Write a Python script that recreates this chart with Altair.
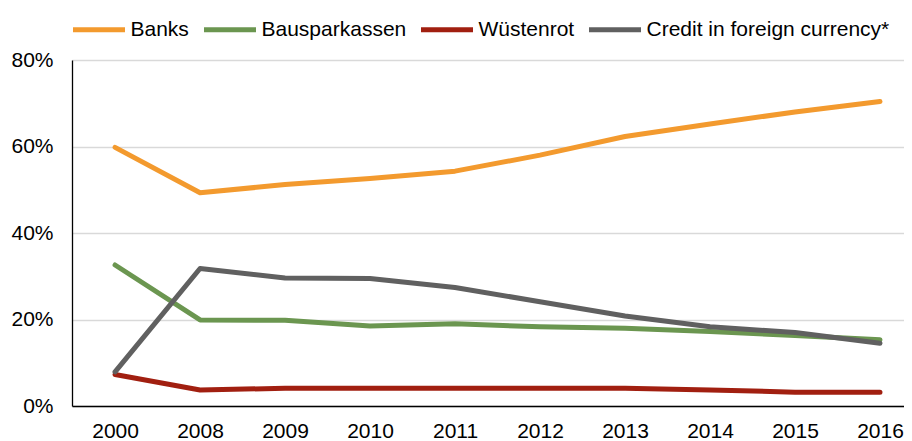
import altair as alt
import pandas as pd

years = ["2000", "2008", "2009", "2010", "2011", "2012", "2013", "2014", "2015", "2016"]
banks = [59.8, 49.3, 51.2, 52.6, 54.3, 58.0, 62.3, 65.2, 68.0, 70.4]
bausparkassen = [32.6, 19.9, 19.8, 18.5, 19.0, 18.3, 18.0, 17.2, 16.3, 15.3]
wuestenrot = [7.3, 3.7, 4.1, 4.1, 4.1, 4.1, 4.1, 3.7, 3.2, 3.2]
credit_fx = [7.9, 31.8, 29.6, 29.5, 27.4, 24.1, 20.8, 18.3, 17.0, 14.5]

series = ["Banks", "Bausparkassen", "Wüstenrot", "Credit in foreign currency*"]
colors = ["#F39A2E", "#6B9650", "#A11F10", "#606060"]
y_ticks = [0, 20, 40, 60, 80]

rows = []
for name, vals in zip(series, [banks, bausparkassen, wuestenrot, credit_fx]):
    for yr, v in zip(years, vals):
        rows.append({"year": yr, "series": name, "value": v})
df = pd.DataFrame(rows)

chart = alt.Chart(df).mark_line(
    strokeWidth=5, strokeCap="round", strokeJoin="round"
).encode(
    x=alt.X(
        "year:O", sort=years,
        scale=alt.Scale(type="point", padding=0.3946, align=0.642),
        axis=alt.Axis(title=None, labelAngle=0, ticks=False, grid=False,
                      domainColor="black", domainWidth=1.3, labelPadding=14,
                      labelFontSize=21, labelColor="black"),
    ),
    y=alt.Y(
        "value:Q",
        scale=alt.Scale(domain=[0, 80]),
        axis=alt.Axis(title=None, values=y_ticks, labelExpr="datum.value + '%'",
                      ticks=False, labelPadding=19, labelFontSize=21, labelColor="black",
                      domainColor="black", domainWidth=1.3,
                      gridColor="#D9D9D9", gridWidth=1.3),
    ),
    color=alt.Color(
        "series:N", sort=series,
        scale=alt.Scale(domain=series, range=colors),
        legend=alt.Legend(
            title=None, orient="none", legendX=-1.5, legendY=-59,
            direction="horizontal", symbolType="stroke", symbolSize=2704,
            symbolStrokeWidth=5, labelFontSize=21, labelOffset=3,
            columnPadding=4, padding=0, labelLimit=500, labelColor="black",
        ),
    ),
).properties(
    width=832, height=346,
    autosize=alt.AutoSizeParams(type="none"),
    padding={"left": 64, "top": 52, "right": 0, "bottom": 35},
).configure(
    font="Liberation Sans",
).configure_view(stroke=None)

chart.save("out.html", embed_options={"renderer": "svg", "actions": False})
